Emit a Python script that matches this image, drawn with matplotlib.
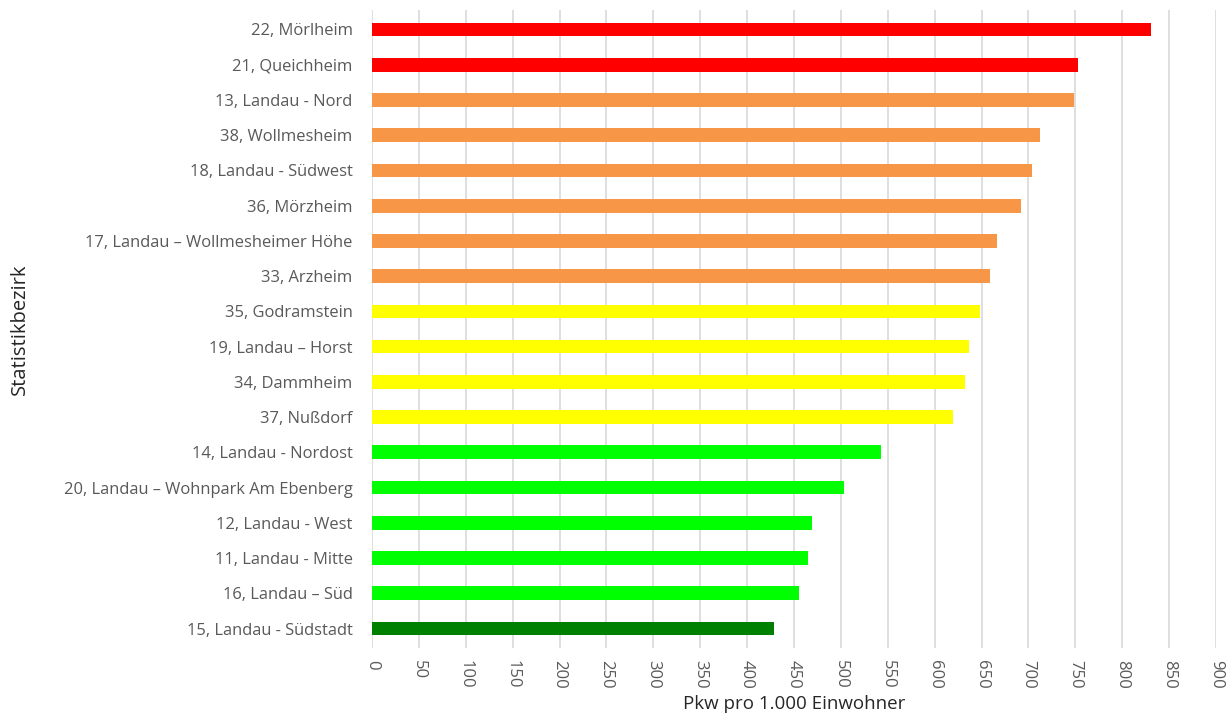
import matplotlib
matplotlib.use("Agg")
import matplotlib.pyplot as plt

bezirke = ["22, Mörlheim", "21, Queichheim", "13, Landau - Nord", "38, Wollmesheim",
           "18, Landau - Südwest", "36, Mörzheim", "17, Landau – Wollmesheimer Höhe",
           "33, Arzheim", "35, Godramstein", "19, Landau – Horst", "34, Dammheim",
           "37, Nußdorf", "14, Landau - Nordost", "20, Landau – Wohnpark Am Ebenberg",
           "12, Landau - West", "11, Landau - Mitte", "16, Landau – Süd",
           "15, Landau - Südstadt"]
pkw = [831, 753, 749, 712, 704, 692, 667, 659, 648, 637, 632, 620, 543, 503,
       469, 465, 455, 429]
farben = ["#FF0000"] * 2 + ["#F79646"] * 6 + ["#FFFF00"] * 4 + ["#00FF00"] * 5 + ["#008000"]
xticks = list(range(0, 901, 50))

plt.rcParams["font.family"] = ["Open Sans", "DejaVu Sans"]
grau = "#595959"

fig = plt.figure(figsize=(12.26, 7.15), dpi=100)
ax = fig.add_axes([372 / 1226, (715 - 648) / 715, (1216 - 372) / 1226, (648 - 10) / 715])

y = list(range(len(bezirke)))
ax.barh(y, pkw, height=0.39, color=farben, zorder=3)
ax.set_ylim(len(bezirke) - 0.45, -0.55)
ax.set_xlim(0, 900)
ax.set_yticks(y)
ax.set_yticklabels(bezirke, fontsize=11.9, color=grau)
ax.set_xticks(xticks)
ax.set_xticklabels([str(t) for t in xticks], rotation=-90, fontsize=12, color=grau)
ax.tick_params(axis="y", length=0, pad=14)
ax.tick_params(axis="x", length=0, pad=9)
ax.grid(axis="x", color="#D9D9D9", linewidth=1.2, zorder=0)
for s in ax.spines.values():
    s.set_visible(False)

ax.set_xlabel("Pkw pro 1.000 Einwohner", fontsize=13.5, color="#262626", labelpad=4)
ax.set_ylabel("Statistikbezirk", fontsize=14.5, color="#262626")
ax.yaxis.set_label_coords(-(372 - 30) / (1216 - 372), 0.5)

fig.savefig("out.png", dpi=100)
